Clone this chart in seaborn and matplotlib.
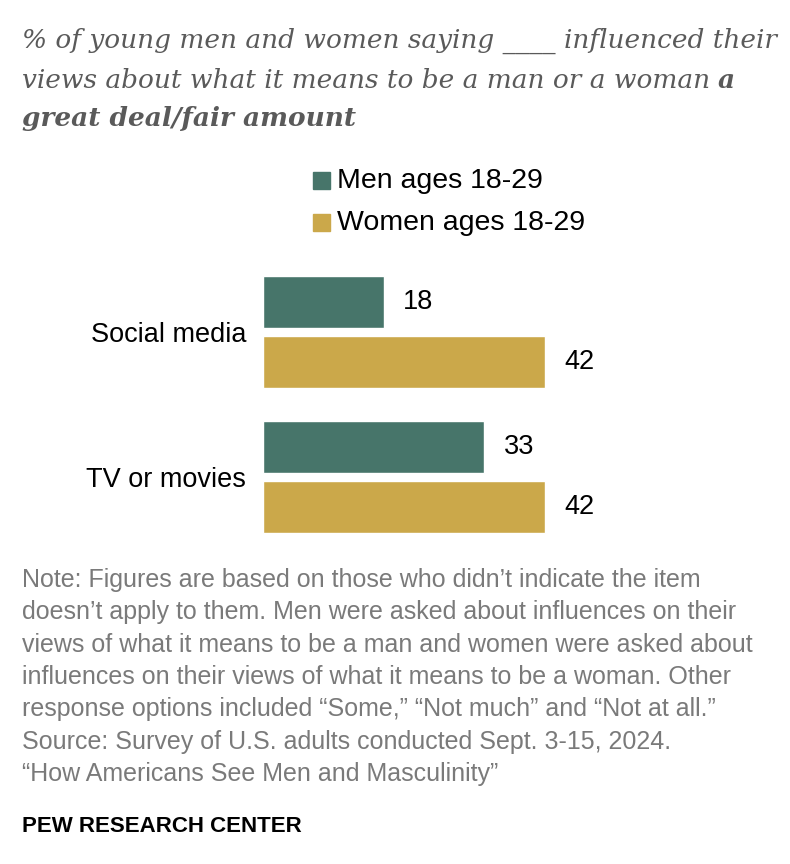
import seaborn as sns
import matplotlib.pyplot as plt
import pandas as pd

# data
categories = ["Social media", "TV or movies"]
groups = ["Men ages 18-29", "Women ages 18-29"]
men = [18, 33]
women = [42, 42]

df = pd.DataFrame({
    "item": categories * 2,
    "group": [groups[0]] * 2 + [groups[1]] * 2,
    "pct": men + women,
})

sns.set_theme(style="white")
plt.rcParams["font.family"] = ["Liberation Sans", "DejaVu Sans"]

green = "#47756A"
gold = "#CBA84A"

fig = plt.figure(figsize=(7.9, 8.64), dpi=100)
ax = fig.add_axes([263 / 790, 1 - 545 / 864, 520 / 790, 285 / 864])

sns.barplot(data=df, y="item", x="pct", hue="group", orient="h",
            palette=[green, gold], width=0.828, gap=0.133, saturation=1,
            legend=False, ax=ax)

for c in ax.containers:
    ax.bar_label(c, fmt="%d", padding=14, fontsize=19.5, color="black")

ax.set_xlim(0, 520 / 6.71)
ax.set_ylim(1.469, -0.497)
ax.set_xlabel("")
ax.set_ylabel("")
ax.set_xticks([])
ax.tick_params(axis="y", length=0, pad=12, labelsize=19.5, labelcolor="black")
sns.despine(ax=ax, left=True, bottom=True)

# title
title_font = dict(family="DejaVu Serif", style="italic", color="#5a5a5a", fontsize=19)
fig.text(22 / 790, 1 - 48 / 864, "% of young men and women saying ____ influenced their", **title_font)
t2 = fig.text(22 / 790, 1 - 88 / 864, "views about what it means to be a man or a woman", **title_font)
fig.canvas.draw()
bb = t2.get_window_extent().transformed(fig.transFigure.inverted())
fig.text(bb.x1 + 8 / 790, 1 - 88 / 864, "a", weight="bold", **title_font)
fig.text(22 / 790, 1 - 126 / 864, "great deal/fair amount", weight="bold", **title_font)

# legend
for i, (g, col) in enumerate(zip(groups, [green, gold])):
    y = 1 - (181 + 42 * i) / 864
    fig.patches.append(plt.Rectangle((313 / 790, y - 8 / 864), 17 / 790, 17 / 864,
                                     transform=fig.transFigure, color=col))
    fig.text(337 / 790, y, g, va="center", fontsize=20.5, color="black")

note = ("Note: Figures are based on those who didn\u2019t indicate the item\n"
        "doesn\u2019t apply to them. Men were asked about influences on their\n"
        "views of what it means to be a man and women were asked about\n"
        "influences on their views of what it means to be a woman. Other\n"
        "response options included \u201cSome,\u201d \u201cNot much\u201d and \u201cNot at all.\u201d\n"
        "Source: Survey of U.S. adults conducted Sept. 3-15, 2024.\n"
        "\u201cHow Americans See Men and Masculinity\u201d")
fig.text(22 / 790, 1 - 568 / 864, note, va="top", fontsize=18, color="#7a7a7a",
         linespacing=1.44)

fig.text(22 / 790, 1 - 826 / 864, "PEW RESEARCH CENTER", va="center", fontsize=16,
         weight="bold", color="black")

fig.savefig("out.png", dpi=100)
